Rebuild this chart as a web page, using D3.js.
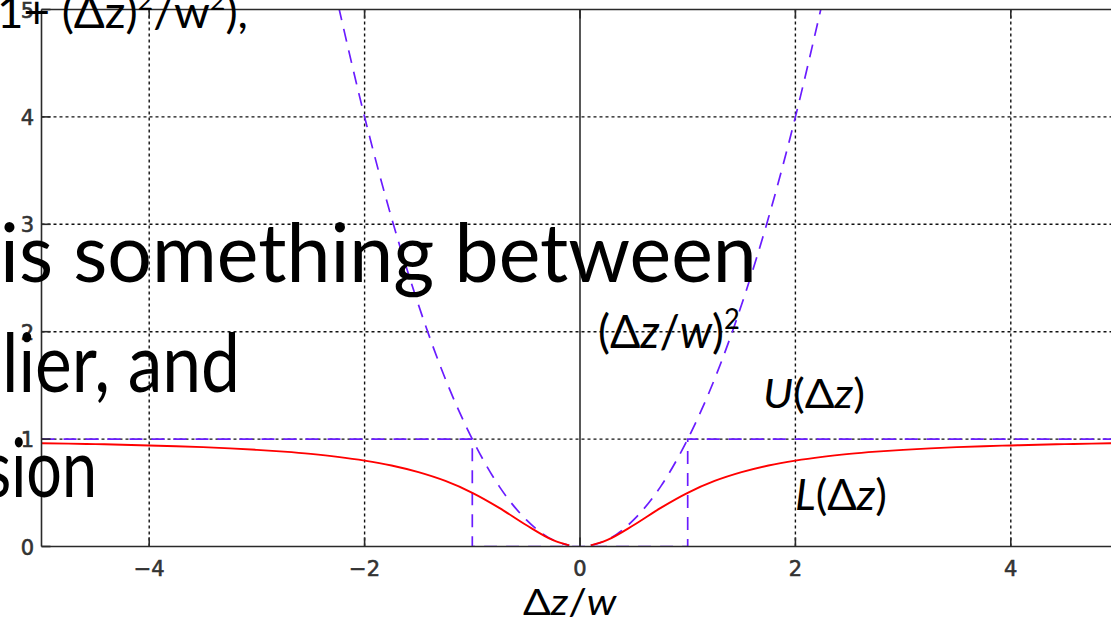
<!DOCTYPE html>
<html>
<head>
<meta charset="utf-8">
<script src="https://cdn.jsdelivr.net/npm/d3@7"></script>
<style>
  body { margin: 0; background: #fff; overflow: hidden; }
  svg { display: block; }
</style>
</head>
<body>
<svg id="chart"></svg>
<script>
// axis ticks
const xTicks = [-4, -2, 0, 2, 4];
const yTicks = [0, 1, 2, 3, 4, 5];
const gridX = [-4, -2, 2, 4];
const gridY = [1, 2, 3, 4];

// L(dz) - red curve (null = gap at 0)
const lowerX = [-5, -4.75, -4.5, -4.25, -4, -3.75, -3.5, -3.25, -3, -2.75, -2.5, -2.25, -2, -1.75, -1.5, -1.25, -1, -0.75, -0.5, -0.25, -0.1,
  0,
  0.1, 0.25, 0.5, 0.75, 1, 1.25, 1.5, 1.75, 2, 2.25, 2.5, 2.75, 3, 3.25, 3.5, 3.75, 4, 4.25, 4.5, 4.75, 5];
const lowerY = [0.962, 0.958, 0.953, 0.948, 0.941, 0.934, 0.925, 0.914, 0.9, 0.883, 0.862, 0.835, 0.8, 0.754, 0.692, 0.61, 0.5, 0.36, 0.2, 0.059, 0.01,
  null,
  0.01, 0.059, 0.2, 0.36, 0.5, 0.61, 0.692, 0.754, 0.8, 0.835, 0.862, 0.883, 0.9, 0.914, 0.925, 0.934, 0.941, 0.948, 0.953, 0.958, 0.962];

// (dz/w)^2 - dashed parabola
const squareX = [-2.24, -2, -1.75, -1.5, -1.25, -1, -0.75, -0.5, -0.25, -0.1, 0, 0.1, 0.25, 0.5, 0.75, 1, 1.25, 1.5, 1.75, 2, 2.24];
const squareY = [5.02, 4, 3.06, 2.25, 1.56, 1, 0.56, 0.25, 0.06, 0.01, null, 0.01, 0.06, 0.25, 0.56, 1, 1.56, 2.25, 3.06, 4, 5.02];

// U(dz) - dashed step
const upperX = [-5, -1, -1, 1, 1, 5];
const upperY = [1, 1, 0, 0, 1, 1];

const W = 1111, H = 623;
const blue = '#6a1cff';
const red = '#ff0000';

const svg = d3.select('#chart').attr('width', W).attr('height', H);

const x = d3.scaleLinear().domain([-5, 5]).range([41.5, 1118.5]);
const y = d3.scaleLinear().domain([0, 5]).range([546.5, 9.5]);

svg.append('defs').append('clipPath').attr('id', 'plot')
  .append('rect')
  .attr('x', x(-5)).attr('y', y(5))
  .attr('width', x(5) - x(-5)).attr('height', y(0) - y(5));

// grid (dotted, matplotlib style)
const grid = svg.append('g')
  .attr('stroke', '#111').attr('stroke-width', 1.4).attr('stroke-dasharray', '3,3');
grid.selectAll('.gx').data(gridX).enter().append('line')
  .attr('x1', d => x(d)).attr('x2', d => x(d))
  .attr('y1', y(0)).attr('y2', y(5));
grid.selectAll('.gy').data(gridY).enter().append('line')
  .attr('y1', d => y(d)).attr('y2', d => y(d))
  .attr('x1', x(-5)).attr('x2', x(5));

// solid vertical at 0
svg.append('line')
  .attr('x1', x(0)).attr('x2', x(0)).attr('y1', y(0)).attr('y2', y(5))
  .attr('stroke', '#111').attr('stroke-width', 1.4);

const plot = svg.append('g').attr('clip-path', 'url(#plot)');

const line = d3.line()
  .defined(d => d[1] != null)
  .x(d => x(d[0])).y(d => y(d[1]));

plot.append('path')
  .datum(upperX.map((v, i) => [v, upperY[i]]))
  .attr('d', line)
  .attr('fill', 'none').attr('stroke', blue).attr('stroke-width', 1.7)
  .attr('stroke-dasharray', '13,9');

plot.append('path')
  .datum(squareX.map((v, i) => [v, squareY[i]]))
  .attr('d', line.curve(d3.curveMonotoneX))
  .attr('fill', 'none').attr('stroke', blue).attr('stroke-width', 1.7)
  .attr('stroke-dasharray', '13,9');

plot.append('path')
  .datum(lowerX.map((v, i) => [v, lowerY[i]]))
  .attr('d', line.curve(d3.curveMonotoneX))
  .attr('fill', 'none').attr('stroke', red).attr('stroke-width', 1.9);

// spines
const spine = svg.append('g').attr('stroke', '#2a2a2a').attr('stroke-width', 1.6);
spine.append('line').attr('x1', x(-5)).attr('x2', x(5)).attr('y1', y(0)).attr('y2', y(0));
spine.append('line').attr('x1', x(-5)).attr('x2', x(5)).attr('y1', y(5)).attr('y2', y(5));
spine.append('line').attr('x1', x(-5)).attr('x2', x(-5)).attr('y1', y(0)).attr('y2', y(5));

// inward ticks
const ticks = svg.append('g').attr('stroke', '#2a2a2a').attr('stroke-width', 1.6);
ticks.selectAll('.tb').data(xTicks).enter().append('line')
  .attr('x1', d => x(d)).attr('x2', d => x(d))
  .attr('y1', y(0)).attr('y2', y(0) - 9);
ticks.selectAll('.tt').data(xTicks).enter().append('line')
  .attr('x1', d => x(d)).attr('x2', d => x(d))
  .attr('y1', y(5)).attr('y2', y(5) + 9);
ticks.selectAll('.tl').data(yTicks).enter().append('line')
  .attr('y1', d => y(d)).attr('y2', d => y(d))
  .attr('x1', x(-5)).attr('x2', x(-5) + 9);

// tick labels
const tickFont = "'DejaVu Sans', sans-serif";
function tickStyle(sel) {
  sel.style('font-family', tickFont).style('font-size', '21px')
    .style('fill', '#333').style('stroke', '#333').style('stroke-width', '0.6px');
}
svg.append('g').selectAll('text').data(xTicks).enter().append('text')
  .attr('x', d => x(d)).attr('y', 576)
  .attr('text-anchor', 'middle')
  .call(tickStyle)
  .text(d => d < 0 ? '\u2212' + Math.abs(d) : d);
svg.append('g').selectAll('text').data(yTicks).enter().append('text')
  .attr('x', 34).attr('y', d => y(d) + 8)
  .attr('text-anchor', 'end')
  .call(tickStyle)
  .text(d => d);

// math labels: parts = [text, italic, superscript]
const mathFont = "Lato, 'Open Sans', sans-serif";
function mathLabel(parts, size, x0, x1, base) {
  const t = svg.append('text')
    .style('font-family', mathFont).style('font-size', size + 'px').style('fill', '#000');
  let raised = false;
  parts.forEach(p => {
    const s = t.append('tspan').text(p[0]);
    if (p[1]) s.style('font-style', 'italic');
    if (p[2]) {
      s.style('font-size', Math.round(size * 0.6) + 'px').attr('dy', -size * 0.42);
      raised = true;
    } else if (raised) {
      s.attr('dy', size * 0.42);
      raised = false;
    }
  });
  const bb = t.node().getBBox();
  const sx = (x1 - x0) / bb.width;
  t.attr('transform', `translate(${x0},${base}) scale(${sx},1) translate(${-bb.x},0)`);
  return t;
}

mathLabel([['('], ['\u0394'], ['z', true], ['/'], ['w', true], [')'], ['2', false, true]], 46, 598, 740, 348);
mathLabel([['U', true], ['('], ['\u0394'], ['z', true], [')']], 41, 763, 865, 408);
mathLabel([['L', true], ['('], ['\u0394'], ['z', true], [')']], 42, 795, 887, 510);
mathLabel([['\u0394'], ['z', true], ['/'], ['w', true]], 37, 523, 618, 615);

// slide text laid over the chart (left edge of the slide text is cut off)
mathLabel([['1+ (\u0394z)'], ['2', false, true], ['/w'], ['2', false, true], ['),']], 44, -3, 248, 28);
mathLabel([['is something between']], 81, 0, 757, 282);
mathLabel([['lier, and']], 81, 2, 240, 392);
mathLabel([['sion']], 81, -16, 97, 497);
</script>
</body>
</html>
